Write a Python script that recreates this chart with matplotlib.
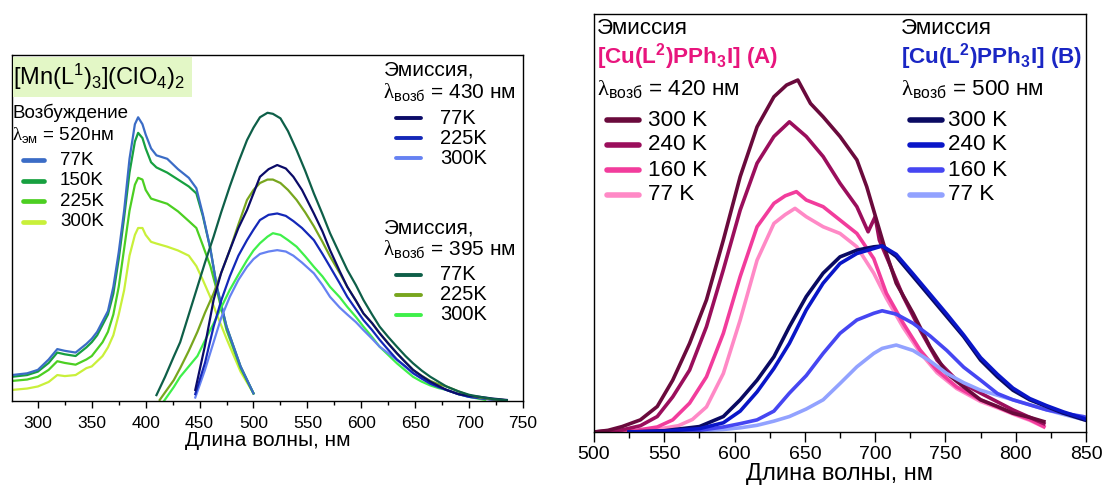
import matplotlib
matplotlib.use('Agg')
import matplotlib.pyplot as plt
from matplotlib.lines import Line2D
from matplotlib.patches import Rectangle
from matplotlib.ticker import MultipleLocator

plt.rcParams['font.family'] = ['Liberation Sans', 'DejaVu Sans']
plt.rcParams['mathtext.fontset'] = 'custom'
plt.rcParams['mathtext.rm'] = 'Liberation Sans'
plt.rcParams['mathtext.it'] = 'Liberation Sans:italic'
plt.rcParams['mathtext.bf'] = 'Liberation Sans:bold'
plt.rcParams['mathtext.sf'] = 'Liberation Serif'

# ---------------- Left panel data: [Mn(L1)3](ClO4)2 ----------------
exc_wl = [276, 290, 300, 310, 318, 325, 335, 345, 350, 355, 360, 365, 370, 375, 380, 385,
          390, 393, 397, 400, 405, 410, 420, 430, 440, 447, 453, 460, 466, 475, 488, 500]
exc_77 = [0.075, 0.08, 0.09, 0.12, 0.15, 0.145, 0.14, 0.165, 0.18, 0.20, 0.23, 0.26, 0.33, 0.43, 0.55, 0.70,
          0.80, 0.82, 0.80, 0.77, 0.73, 0.71, 0.70, 0.67, 0.645, 0.615, 0.54, 0.44, 0.33, 0.215, 0.10, 0.022]
exc_150 = [0.07, 0.075, 0.085, 0.11, 0.14, 0.135, 0.13, 0.155, 0.17, 0.19, 0.22, 0.25, 0.31, 0.41, 0.53, 0.66,
           0.75, 0.775, 0.76, 0.73, 0.69, 0.675, 0.66, 0.64, 0.62, 0.60, 0.535, 0.44, 0.33, 0.215, 0.10, 0.022]
exc_225 = [0.058, 0.062, 0.07, 0.09, 0.115, 0.11, 0.105, 0.12, 0.13, 0.15, 0.17, 0.20, 0.25, 0.33, 0.44, 0.55,
           0.625, 0.645, 0.64, 0.61, 0.585, 0.58, 0.57, 0.548, 0.52, 0.50, 0.45, 0.39, 0.32, 0.205, 0.095, 0.022]
exc_300 = [0.032, 0.036, 0.042, 0.055, 0.075, 0.072, 0.075, 0.095, 0.10, 0.115, 0.13, 0.155, 0.19, 0.25, 0.32, 0.42,
           0.48, 0.50, 0.50, 0.48, 0.46, 0.455, 0.446, 0.435, 0.42, 0.39, 0.35, 0.30, 0.25, 0.18, 0.085, 0.022]

em430_wl = [446, 455, 463, 470, 478, 486, 494, 500, 506, 514, 522, 530, 537, 545, 556, 564, 571, 580,
            587, 595, 602, 610, 617, 625, 633, 641, 648, 656, 664, 672, 679, 690, 700, 710, 722, 735]
em430_77 = [0.032, 0.16, 0.292, 0.37, 0.436, 0.50, 0.552, 0.60, 0.648, 0.67, 0.682, 0.672, 0.648, 0.61, 0.542,
            0.49, 0.436, 0.375, 0.33, 0.29, 0.253, 0.225, 0.196, 0.166, 0.138, 0.112, 0.09, 0.072, 0.056,
            0.043, 0.032, 0.02, 0.015, 0.012, 0.007, 0.003]
em430_225 = [0.02, 0.11, 0.215, 0.29, 0.36, 0.42, 0.465, 0.495, 0.523, 0.538, 0.542, 0.535, 0.52, 0.50, 0.465,
             0.425, 0.388, 0.34, 0.301, 0.265, 0.234, 0.205, 0.177, 0.148, 0.12, 0.10, 0.081, 0.065, 0.05,
             0.04, 0.032, 0.02, 0.012, 0.008, 0.004, 0.002]
em430_300 = [0.01, 0.09, 0.17, 0.24, 0.301, 0.35, 0.388, 0.41, 0.425, 0.432, 0.436, 0.432, 0.42, 0.40, 0.369,
             0.335, 0.301, 0.27, 0.25, 0.228, 0.205, 0.18, 0.157, 0.138, 0.119, 0.098, 0.08, 0.065, 0.052,
             0.04, 0.032, 0.02, 0.012, 0.008, 0.004, 0.002]

em395_wl_77 = [410, 418, 426, 432, 440, 448, 455, 463, 470, 478, 486, 494, 500, 506, 513, 518, 525, 532, 540,
               548, 556, 564, 571, 580, 587, 595, 602, 610, 617, 625, 633, 641, 648, 656, 664, 672, 679, 690,
               700, 710, 722, 735]
em395_77 = [0.017, 0.07, 0.128, 0.17, 0.25, 0.33, 0.40, 0.475, 0.545, 0.62, 0.69, 0.754, 0.79, 0.82, 0.833,
            0.83, 0.817, 0.78, 0.725, 0.665, 0.60, 0.54, 0.485, 0.425, 0.379, 0.335, 0.292, 0.25, 0.215,
            0.185, 0.157, 0.13, 0.109, 0.088, 0.07, 0.055, 0.042, 0.028, 0.018, 0.012, 0.006, 0.002]
em395_wl_225 = [413, 418, 426, 432, 440, 448, 455, 463, 470, 478, 486, 494, 500, 506, 513, 518, 525, 532, 540,
                548, 556, 564, 571, 580, 587, 595, 602, 610, 617, 625, 633, 641, 648, 656, 664, 672, 679, 690,
                700, 710, 722, 735]
em395_225 = [0.003, 0.025, 0.06, 0.095, 0.145, 0.20, 0.255, 0.311, 0.37, 0.436, 0.51, 0.581, 0.61, 0.63, 0.64,
             0.64, 0.63, 0.61, 0.581, 0.545, 0.505, 0.46, 0.418, 0.37, 0.33, 0.29, 0.253, 0.225, 0.196, 0.167,
             0.138, 0.112, 0.09, 0.073, 0.058, 0.048, 0.042, 0.028, 0.016, 0.01, 0.005, 0.002]
em395_wl_300 = [417, 426, 432, 440, 448, 455, 463, 470, 478, 486, 494, 500, 506, 513, 518, 525, 532, 540,
                548, 556, 564, 571, 580, 587, 595, 602, 610, 617, 625, 633, 641, 648, 656, 664, 672, 679, 690,
                700, 710, 715]
em395_300 = [0.0, 0.04, 0.07, 0.10, 0.13, 0.175, 0.224, 0.27, 0.321, 0.365, 0.407, 0.435, 0.456, 0.475, 0.485,
             0.48, 0.465, 0.446, 0.418, 0.388, 0.36, 0.33, 0.30, 0.272, 0.243, 0.215, 0.185, 0.157, 0.133,
             0.109, 0.088, 0.07, 0.056, 0.045, 0.037, 0.032, 0.02, 0.012, 0.006, 0.003]

# ---------------- Right panel data: [Cu(L2)PPh3I] ----------------
A_wl_300 = [500, 510, 520, 533, 545, 556, 568, 580, 592, 604, 616, 628, 637, 645, 654, 663, 675, 687, 694,
            701, 708, 715, 727, 739, 751, 763, 775, 787, 798, 810, 820]
A_300 = [0.0, 0.004, 0.013, 0.029, 0.061, 0.124, 0.212, 0.316, 0.459, 0.611, 0.73, 0.802, 0.83, 0.842, 0.786,
         0.754, 0.707, 0.651, 0.587, 0.507, 0.427, 0.356, 0.284, 0.204, 0.14, 0.108, 0.077, 0.061, 0.045,
         0.035, 0.025]
A_wl_240 = [500, 520, 533, 545, 556, 568, 580, 592, 604, 616, 628, 639, 651, 663, 675, 687, 695, 700, 703,
            710, 720, 732, 744, 758, 775, 798, 820]
A_240 = [0.0, 0.005, 0.015, 0.037, 0.084, 0.148, 0.252, 0.388, 0.531, 0.643, 0.707, 0.742, 0.707, 0.659,
         0.595, 0.539, 0.479, 0.515, 0.459, 0.404, 0.324, 0.244, 0.172, 0.124, 0.093, 0.053, 0.02]
A_wl_160 = [500, 530, 545, 556, 568, 580, 592, 604, 616, 628, 636, 644, 651, 663, 675, 687, 699, 708, 720,
            732, 744, 758, 775, 787, 798, 810, 820]
A_160 = [0.0, 0.004, 0.012, 0.029, 0.069, 0.132, 0.236, 0.372, 0.491, 0.547, 0.565, 0.575, 0.555, 0.539,
         0.507, 0.475, 0.415, 0.332, 0.26, 0.196, 0.148, 0.108, 0.077, 0.06, 0.045, 0.03, 0.013]
A_wl_77 = [500, 540, 560, 570, 580, 592, 604, 616, 628, 636, 643, 651, 663, 675, 687, 699, 708, 720, 732,
           744, 758, 775, 787, 798, 810, 820]
A_77 = [0.0, 0.004, 0.015, 0.03, 0.06, 0.14, 0.268, 0.411, 0.499, 0.52, 0.535, 0.515, 0.491, 0.475, 0.443,
        0.38, 0.32, 0.25, 0.19, 0.142, 0.104, 0.073, 0.058, 0.043, 0.028, 0.012]

B_wl = [525, 550, 575, 592, 604, 616, 628, 639, 651, 663, 675, 687, 699, 705, 715, 727, 739, 751, 763, 775,
        787, 798, 810, 822, 834, 848, 850]
B_300 = [0.0, 0.003, 0.013, 0.037, 0.077, 0.124, 0.18, 0.252, 0.324, 0.38, 0.419, 0.435, 0.443, 0.445, 0.42,
         0.372, 0.324, 0.276, 0.228, 0.172, 0.132, 0.10, 0.077, 0.061, 0.045, 0.03, 0.028]
B_240 = [0.0, 0.002, 0.008, 0.022, 0.05, 0.096, 0.152, 0.212, 0.292, 0.356, 0.403, 0.427, 0.439, 0.445, 0.425,
         0.378, 0.33, 0.282, 0.232, 0.178, 0.138, 0.105, 0.08, 0.063, 0.048, 0.033, 0.03]
B_160 = [0.0, 0.001, 0.004, 0.012, 0.02, 0.029, 0.05, 0.093, 0.135, 0.188, 0.236, 0.268, 0.284, 0.29, 0.282,
         0.26, 0.23, 0.195, 0.155, 0.124, 0.092, 0.077, 0.065, 0.053, 0.045, 0.037, 0.035]
B_77 = [0.0, 0.001, 0.003, 0.006, 0.01, 0.016, 0.026, 0.037, 0.055, 0.077, 0.116, 0.156, 0.188, 0.2, 0.208,
        0.195, 0.17, 0.14, 0.118, 0.10, 0.088, 0.077, 0.065, 0.053, 0.042, 0.03, 0.028]

xlabel_text = 'Длина волны, нм'

# colours
c_exc = {'77K': '#3b6cc6', '150K': '#17a040', '225K': '#4ccf22', '300K': '#c9f03a'}
c_e430 = {'77K': '#0b0b68', '225K': '#1428b8', '300K': '#6682f2'}
c_e395 = {'77K': '#0e5f48', '225K': '#78a61e', '300K': '#3ff04a'}
c_A = {'300 K': '#6a0a3c', '240 K': '#9b0e5c', '160 K': '#f23c9c', '77 K': '#ff89c6'}
c_B = {'300 K': '#0a0a62', '240 K': '#0a16c8', '160 K': '#4646f2', '77 K': '#92a2ff'}

W, H = 1105, 491
fig = plt.figure(figsize=(W / 100, H / 100), dpi=100)


def fx(x):
    return x / W


def fy(y):
    return 1 - y / H


axL = fig.add_axes([fx(12), fy(401), (523 - 12) / W, (401 - 55) / H])
axR = fig.add_axes([fx(594), fy(432), (1086 - 594) / W, (432 - 14) / H])

lwL = 1.6
axL.plot(exc_wl, exc_300, color=c_exc['300K'], lw=lwL)
axL.plot(exc_wl, exc_225, color=c_exc['225K'], lw=lwL)
axL.plot(exc_wl, exc_150, color=c_exc['150K'], lw=lwL)
axL.plot(exc_wl, exc_77, color=c_exc['77K'], lw=lwL)
axL.plot(em395_wl_300, em395_300, color=c_e395['300K'], lw=lwL)
axL.plot(em430_wl, em430_300, color=c_e430['300K'], lw=lwL)
axL.plot(em430_wl, em430_225, color=c_e430['225K'], lw=lwL)
axL.plot(em395_wl_225, em395_225, color=c_e395['225K'], lw=lwL)
axL.plot(em430_wl, em430_77, color=c_e430['77K'], lw=lwL)
axL.plot(em395_wl_77, em395_77, color=c_e395['77K'], lw=lwL)

axL.set_xlim(276, 750)
axL.set_ylim(0, 1)
axL.set_yticks([])
axL.xaxis.set_major_locator(MultipleLocator(50))
axL.xaxis.set_minor_locator(MultipleLocator(25))
axL.tick_params(axis='x', which='major', direction='out', length=5, width=1, labelsize=12.5, pad=6)
axL.tick_params(axis='x', which='minor', direction='out', length=3, width=1)
axL.set_xlabel(xlabel_text, fontsize=15, labelpad=0)

lwR = 2.6
axR.plot(A_wl_77, A_77, color=c_A['77 K'], lw=lwR)
axR.plot(A_wl_160, A_160, color=c_A['160 K'], lw=lwR)
axR.plot(A_wl_240, A_240, color=c_A['240 K'], lw=lwR)
axR.plot(A_wl_300, A_300, color=c_A['300 K'], lw=lwR)
axR.plot(B_wl, B_77, color=c_B['77 K'], lw=lwR)
axR.plot(B_wl, B_160, color=c_B['160 K'], lw=lwR)
axR.plot(B_wl, B_300, color=c_B['300 K'], lw=lwR)
axR.plot(B_wl, B_240, color=c_B['240 K'], lw=lwR)

axR.set_xlim(500, 850)
axR.set_ylim(0, 1)
axR.set_yticks([])
axR.xaxis.set_major_locator(MultipleLocator(50))
axR.xaxis.set_minor_locator(MultipleLocator(25))
axR.tick_params(axis='x', which='major', direction='out', length=7, width=1, labelsize=14, pad=3)
axR.tick_params(axis='x', which='minor', direction='out', length=4, width=1)
axR.set_xlabel(xlabel_text, fontsize=17, labelpad=0)

for ax in (axL, axR):
    for s in ax.spines.values():
        s.set_linewidth(1.0)


def leg_line(x0, x1, y, color, lw):
    fig.add_artist(Line2D([fx(x0), fx(x1)], [fy(y), fy(y)], color=color, lw=lw,
                          solid_capstyle='round', transform=fig.transFigure))


def ftext(x, y, s, size, **kw):
    fig.text(fx(x), fy(y), s, fontsize=size, va='center', ha='left', **kw)


LAM = r'$\mathsf{\lambda}_{\mathrm{%s}}$'

# Left: compound label box
fig.add_artist(Rectangle((fx(12.5), fy(97)), 179 / W, 40 / H, transform=fig.transFigure,
                         facecolor='#e3f7c6', edgecolor='none', zorder=1))
ftext(13, 77, '[Mn(L$^1$)$_3$](ClO$_4$)$_2$', 17)

# Left: excitation legend
ftext(13, 113, 'Возбуждение', 13.5)
ftext(12, 135, LAM % 'эм' + ' = 520нм', 13.5)
for i, (lab, col) in enumerate(c_exc.items()):
    y = 160 + 20.5 * i
    leg_line(23, 44, y, col, 3.4)
    ftext(60, y, lab, 13.5)

# Left: emission legends
ftext(384, 70, 'Эмиссия,', 15)
ftext(383, 93, LAM % 'возб' + ' = 430 нм', 15)
for i, (lab, col) in enumerate(c_e430.items()):
    y = 118 + 20 * i
    leg_line(396, 421, y, col, 2.8)
    ftext(440, y, lab, 14.5)

ftext(384, 228, 'Эмиссия,', 15)
ftext(383, 250, LAM % 'возб' + ' = 395 нм', 15)
for i, (lab, col) in enumerate(c_e395.items()):
    y = 275 + 20 * i
    leg_line(396, 421, y, col, 2.8)
    ftext(440, y, lab, 14.5)

# Right: A legend
ftext(597, 28, 'Эмиссия', 16.2)
ftext(597, 57, r'[Cu(L$^{\mathbf{2}}$)PPh$_{\mathbf{3}}$I] (A)', 16.2, color='#e8157d', fontweight='bold')
ftext(597, 90, LAM % 'возб' + ' = 420 нм', 16.2)
for i, (lab, col) in enumerate(c_A.items()):
    y = 120 + 25 * i
    leg_line(607, 639, y, col, 4.0)
    ftext(648, y, lab, 16.2)

# Right: B legend
ftext(901, 28, 'Эмиссия', 16.2)
ftext(901, 57, r'[Cu(L$^{\mathbf{2}}$)PPh$_{\mathbf{3}}$I] (B)', 16.2, color='#1a26c4', fontweight='bold')
ftext(901, 90, LAM % 'возб' + ' = 500 нм', 16.2)
for i, (lab, col) in enumerate(c_B.items()):
    y = 120 + 25 * i
    leg_line(910, 942, y, col, 4.0)
    ftext(948, y, lab, 16.2)

fig.savefig('out.png', dpi=100)
